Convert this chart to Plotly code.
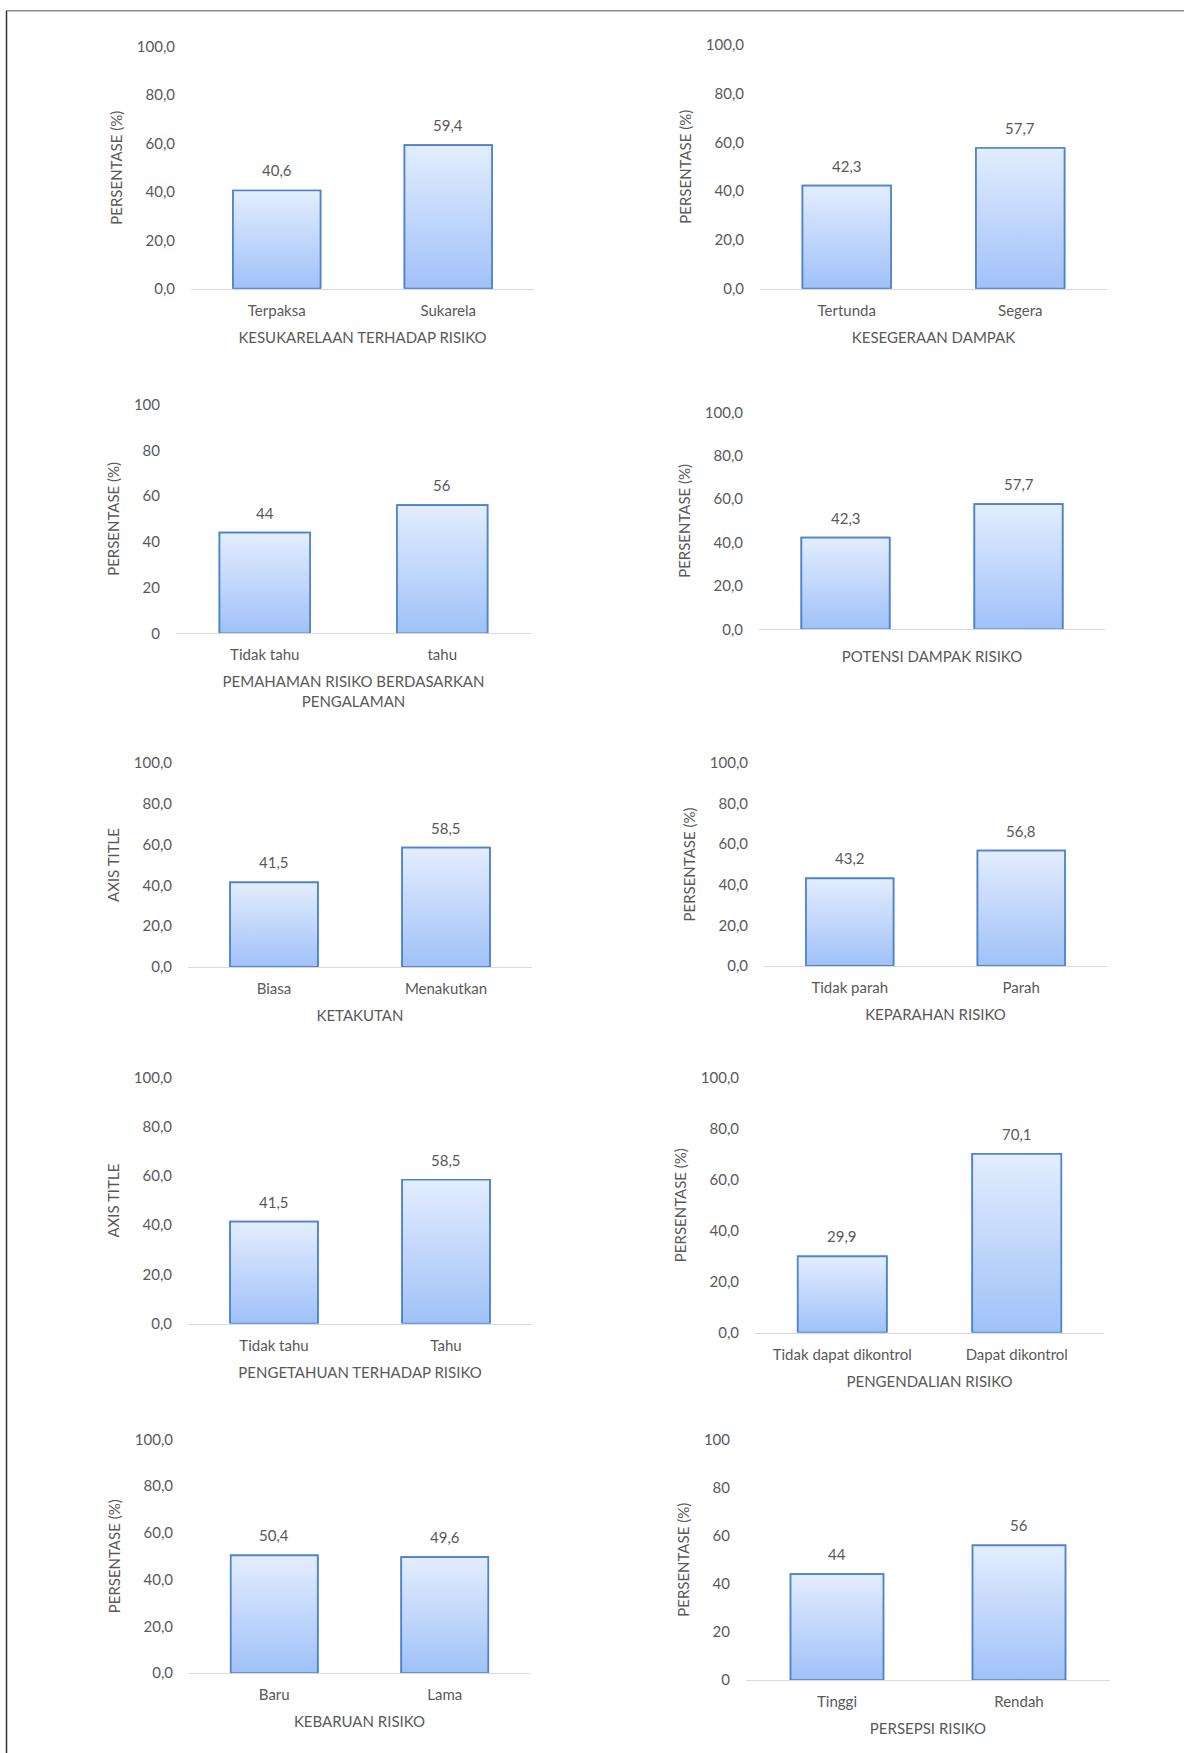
import plotly.graph_objects as go

W, H = 1184, 1753

# ---------------- data ----------------
cat_1 = ["Terpaksa", "Sukarela"]
val_1 = [40.6, 59.4]
cat_2 = ["Tertunda", "Segera"]
val_2 = [42.3, 57.7]
cat_3 = ["Tidak tahu", "tahu"]
val_3 = [44, 56]
cat_4 = ["", ""]
val_4 = [42.3, 57.7]
cat_5 = ["Biasa", "Menakutkan"]
val_5 = [41.5, 58.5]
cat_6 = ["Tidak parah", "Parah"]
val_6 = [43.2, 56.8]
cat_7 = ["Tidak tahu", "Tahu"]
val_7 = [41.5, 58.5]
cat_8 = ["Tidak dapat dikontrol", "Dapat dikontrol"]
val_8 = [29.9, 70.1]
cat_9 = ["Baru", "Lama"]
val_9 = [50.4, 49.6]
cat_10 = ["Tinggi", "Rendah"]
val_10 = [44, 56]

xtitles = ["KESUKARELAAN TERHADAP RISIKO", "KESEGERAAN DAMPAK",
           "PEMAHAMAN RISIKO BERDASARKAN<br>PENGALAMAN", "POTENSI DAMPAK RISIKO",
           "KETAKUTAN", "KEPARAHAN RISIKO",
           "PENGETAHUAN TERHADAP RISIKO", "PENGENDALIAN RISIKO",
           "KEBARUAN RISIKO", "PERSEPSI RISIKO"]
ytitles = ["PERSENTASE (%)", "PERSENTASE (%)", "PERSENTASE (%)", "PERSENTASE (%)",
           "AXIS TITLE", "PERSENTASE (%)", "AXIS TITLE", "PERSENTASE (%)",
           "PERSENTASE (%)", "PERSENTASE (%)"]
decimals = [1, 1, 0, 1, 1, 1, 1, 1, 1, 0]

cats = [cat_1, cat_2, cat_3, cat_4, cat_5, cat_6, cat_7, cat_8, cat_9, cat_10]
vals = [val_1, val_2, val_3, val_4, val_5, val_6, val_7, val_8, val_9, val_10]

# ---------------- layout (pixel boxes: x0, x1, y_top(=100), y_bottom(=0)) ----------------
boxes = [
    (191, 534, 45, 287), (760, 1107, 43, 287),
    (176, 531, 403, 632), (759, 1105, 411, 628),
    (188, 532, 762, 966), (764, 1107, 762, 965),
    (188, 532, 1077, 1323), (755, 1104, 1077, 1332),
    (189, 530, 1439, 1673), (746, 1110, 1439, 1680),
]
YC, YS = 876.5, 1.0093   # vertical calibration about the page centre


def yfrac(py):
    return 1 - (YC + (py - YC) * YS) / H


TXT = "#595959"
FONT = "Lato"
FS = 15
BORDER = "#4F84CC"
TOP_C = "#E3EDFE"
BOT_C = "#A0C1F8"
BARW = 0.51

fig = go.Figure()
layout = dict(
    width=W, height=H, margin=dict(l=0, r=0, t=0, b=0),
    paper_bgcolor="white", plot_bgcolor="white", showlegend=False,
    separators=",.", font=dict(family=FONT, size=FS, color=TXT),
)
annotations = []

for i in range(10):
    k = "" if i == 0 else str(i + 1)
    xa, ya = "x" + k, "y" + k
    x0, x1, yt, yb = boxes[i]
    fmt = ".1f" if decimals[i] == 1 else ".0f"
    xs = list(range(len(cats[i])))
    fig.add_trace(go.Bar(
        x=xs, y=vals[i], width=BARW, xaxis=xa, yaxis=ya,
        marker=dict(color="#C4D7FB", line=dict(color=BORDER, width=1.7)),
        hoverinfo="skip",
    ))
    # gradient overlay for each bar, built from the same data
    for j, v in zip(xs, vals[i]):
        fig.add_trace(go.Scatter(
            x=[j - BARW / 2, j - BARW / 2, j + BARW / 2, j + BARW / 2, j - BARW / 2],
            y=[0, v, v, 0, 0], xaxis=xa, yaxis=ya, mode="lines",
            fill="toself", line=dict(color=BORDER, width=1.7),
            fillgradient=dict(type="vertical", colorscale=[[0, BOT_C], [1, TOP_C]]),
            hoverinfo="skip",
        ))
        txt = (f"{v:.1f}" if decimals[i] == 1 else f"{v:.0f}").replace(".", ",")
        annotations.append(dict(
            x=j, y=v, xref=xa, yref=ya, text=txt, showarrow=False,
            yanchor="middle", yshift=20, font=dict(family=FONT, size=FS, color=TXT),
        ))
    has_ticks = any(cats[i])
    layout["xaxis" + k] = dict(
        domain=[x0 / W, x1 / W], anchor=ya, range=[-0.5, 1.5],
        tickvals=xs, ticktext=cats[i], showticklabels=has_ticks,
        showline=True, linecolor="#D9D9D9", linewidth=1.2, showgrid=False,
        zeroline=False, ticks="", ticklabelstandoff=8,
        tickfont=dict(family=FONT, size=FS, color=TXT),
        title=dict(text=xtitles[i], standoff=14 if has_ticks else 22,
                   font=dict(family=FONT, size=FS, color=TXT)),
        fixedrange=True,
    )
    layout["yaxis" + k] = dict(
        domain=[yfrac(yb), yfrac(yt)], anchor=xa, range=[0, 100], dtick=20,
        tickformat=fmt, showline=False, showgrid=False, zeroline=False,
        ticks="", ticklabelstandoff=15,
        tickfont=dict(family=FONT, size=FS, color=TXT),
        title=dict(text=ytitles[i], standoff=10, font=dict(family=FONT, size=FS, color=TXT)),
        fixedrange=True,
    )

layout["annotations"] = annotations
layout["shapes"] = [
    dict(type="line", xref="paper", yref="paper", x0=6.5 / W, x1=1.01,
         y0=1 - 0.8 / H, y1=1 - 0.8 / H, line=dict(color="#8C8C8C", width=1.5)),
    dict(type="line", xref="paper", yref="paper", x0=6.5 / W, x1=6.5 / W,
         y0=1 - 0.8 / H, y1=-0.01, line=dict(color="#333333", width=1.5)),
]
fig.update_layout(**layout)
fig.write_html("out.html")
